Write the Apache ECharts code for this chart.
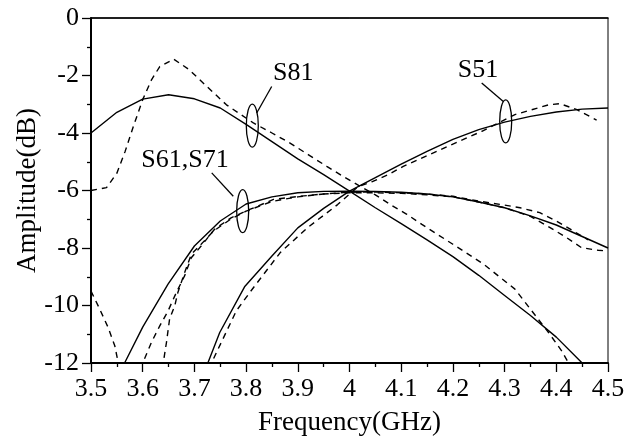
<!DOCTYPE html>
<html>
<head>
<meta charset="utf-8">
<script src="https://cdn.jsdelivr.net/npm/echarts@6/dist/echarts.min.js"></script>
<style>
html,body{margin:0;padding:0;background:#fff;}
#chart{width:635px;height:441px;}
</style>
</head>
<body>
<div id="chart"></div>
<script>
// ---- data (frequency in GHz, amplitude in dB) ----
var xTicks = [3.5, 3.6, 3.7, 3.8, 3.9, 4.0, 4.1, 4.2, 4.3, 4.4, 4.5];
var yTicks = [-12, -10, -8, -6, -4, -2, 0];

var s81SimFreq = [3.5, 3.55, 3.6, 3.65, 3.7, 3.75, 3.8, 3.85, 3.9, 3.95, 4.0, 4.05, 4.1, 4.15, 4.2, 4.25, 4.3, 4.35, 4.4, 4.45, 4.5];
var s81SimAmp  = [-4.0, -3.28, -2.82, -2.67, -2.81, -3.13, -3.7, -4.3, -4.9, -5.45, -6.02, -6.6, -7.15, -7.72, -8.3, -8.95, -9.65, -10.35, -11.1, -12.0, -12.9];

var s81MeasFreq = [3.5, 3.53, 3.55, 3.566, 3.582, 3.6, 3.617, 3.633, 3.66, 3.69, 3.724, 3.762, 3.814, 3.85, 3.885, 3.92, 3.956, 3.985, 4.02, 4.05, 4.079, 4.111, 4.14, 4.2, 4.26, 4.32, 4.36, 4.385, 4.41, 4.43];
var s81MeasAmp  = [-6.0, -5.9, -5.4, -4.64, -3.77, -2.84, -2.15, -1.69, -1.43, -1.8, -2.38, -3.02, -3.65, -4.0, -4.35, -4.75, -5.16, -5.48, -5.85, -6.15, -6.49, -6.83, -7.18, -7.87, -8.57, -9.43, -10.36, -10.94, -11.57, -12.2];

var dipMeasFreq = [3.5, 3.517, 3.533, 3.546, 3.555];
var dipMeasAmp  = [-9.5, -10.13, -10.76, -11.4, -12.2];

var s6171SimFreq = [3.55, 3.565, 3.6, 3.649, 3.7, 3.75, 3.8, 3.85, 3.9, 3.95, 4.0, 4.05, 4.1, 4.15, 4.2, 4.25, 4.3, 4.35, 4.4, 4.45, 4.5];
var s6171SimAmp  = [-12.6, -12.0, -10.75, -9.26, -7.93, -7.06, -6.47, -6.22, -6.08, -6.03, -6.02, -6.03, -6.06, -6.12, -6.22, -6.4, -6.6, -6.88, -7.2, -7.6, -8.0];

var s61MeasFreq = [3.595, 3.6, 3.617, 3.633, 3.649, 3.665, 3.681, 3.694, 3.713, 3.739, 3.771, 3.807, 3.853, 3.904, 3.95, 4.0, 4.05, 4.1, 4.15, 4.2, 4.25, 4.3, 4.35, 4.388, 4.42, 4.449, 4.481, 4.5];
var s61MeasAmp  = [-12.2, -12.0, -11.28, -10.71, -10.19, -9.55, -8.97, -8.34, -7.93, -7.35, -6.95, -6.66, -6.31, -6.2, -6.12, -6.08, -6.08, -6.1, -6.15, -6.22, -6.4, -6.6, -6.9, -7.29, -7.64, -7.99, -8.08, -8.1];

var s71MeasFreq = [3.638, 3.646, 3.652, 3.662, 3.668, 3.681, 3.694, 3.713, 3.737, 3.77, 3.8, 3.85, 3.9, 3.95, 4.0, 4.05, 4.1, 4.15, 4.2, 4.25, 4.294, 4.33, 4.368, 4.4, 4.433, 4.462];
var s71MeasAmp  = [-12.2, -11.28, -10.47, -10.01, -9.55, -8.86, -8.22, -7.87, -7.41, -7.0, -6.72, -6.38, -6.22, -6.12, -6.06, -6.05, -6.08, -6.12, -6.2, -6.37, -6.49, -6.6, -6.77, -7.06, -7.41, -7.72];

var s51SimFreq = [3.72, 3.726, 3.749, 3.797, 3.85, 3.9, 3.95, 4.0, 4.05, 4.1, 4.15, 4.2, 4.25, 4.3, 4.35, 4.4, 4.45, 4.5];
var s51SimAmp  = [-12.2, -12.0, -10.94, -9.35, -8.28, -7.3, -6.62, -6.02, -5.55, -5.08, -4.64, -4.22, -3.88, -3.62, -3.42, -3.27, -3.17, -3.13];

var s51MeasFreq = [3.73, 3.733, 3.781, 3.807, 3.866, 3.919, 3.948, 3.977, 4.017, 4.043, 4.075, 4.104, 4.133, 4.191, 4.256, 4.32, 4.385, 4.407, 4.44, 4.478];
var s51MeasAmp  = [-12.2, -12.0, -10.19, -9.55, -8.16, -7.29, -6.89, -6.49, -5.86, -5.7, -5.45, -5.16, -4.93, -4.46, -3.94, -3.36, -3.02, -2.98, -3.19, -3.55];

// annotation labels and their anchor points (data coordinates)
var annLabels = ['S81', 'S61,S71', 'S51'];
var annEllipse = [[3.812, -3.746], [3.7934, -6.719], [4.3021, -3.597]];
var annLeadFrom = [[3.8205, -3.306], [3.7752, -6.198], [4.2975, -2.903]];
var annLeadTo = [[3.8495, -2.383], [3.7335, -5.387], [4.2557, -2.265]];
var annText = [[3.891, -1.918], [3.6818, -4.96], [4.2485, -1.804]];

function zip(a, b) { return a.map(function (v, i) { return [v, b[i]]; }); }

var FONT = '"Liberation Serif", "Times New Roman", serif';
var chart = echarts.init(document.getElementById('chart'), null, {renderer: 'canvas'});

function lineSeries(f, a, dashed) {
  return {
    type: 'line', data: zip(f, a), symbol: 'none', smooth: false, clip: true,
    lineStyle: {color: '#000', width: 1.4, type: dashed ? [6, 5] : 'solid'},
    animation: false, silent: true
  };
}

chart.setOption({
  backgroundColor: '#fff',
  animation: false,
  grid: {left: 91, right: 27, top: 18, bottom: 77, show: true, borderColor: '#000', borderWidth: 1, backgroundColor: 'transparent'},
  xAxis: [{
    type: 'value', min: xTicks[0], max: xTicks[xTicks.length - 1], interval: 0.1,
    name: 'Frequency(GHz)', nameLocation: 'middle', nameGap: 46, nameMoveOverlap: false,
    nameTextStyle: {fontFamily: FONT, fontSize: 27, color: '#000'},
    axisLine: {show: true, onZero: false, lineStyle: {color: '#000', width: 2}},
    axisTick: {show: true, inside: false, length: 9, lineStyle: {color: '#000', width: 1.3}},
    minorTick: {show: true, splitNumber: 2, length: 4, lineStyle: {color: '#000', width: 1.3}},
    splitLine: {show: false},
    axisLabel: {fontFamily: FONT, fontSize: 26, color: '#000', margin: 13,
      formatter: function (v) { return String(Math.round(v * 10) / 10); }}
  }, {
    type: 'value', position: 'top', min: xTicks[0], max: xTicks[xTicks.length - 1],
    axisLine: {show: true, lineStyle: {color: '#000', width: 1.6}},
    axisTick: {show: false}, axisLabel: {show: false}, splitLine: {show: false}
  }],
  yAxis: [{
    type: 'value', min: yTicks[0], max: yTicks[yTicks.length - 1], interval: 2,
    name: 'Amplitude(dB)', nameLocation: 'middle', nameGap: 50, nameRotate: 90, nameMoveOverlap: false,
    nameTextStyle: {fontFamily: FONT, fontSize: 27, color: '#000'},
    axisLine: {show: true, onZero: false, lineStyle: {color: '#000', width: 2}},
    axisTick: {show: true, inside: false, length: 9, lineStyle: {color: '#000', width: 1.3}},
    minorTick: {show: true, splitNumber: 2, length: 4, lineStyle: {color: '#000', width: 1.3}},
    splitLine: {show: false},
    axisLabel: {fontFamily: FONT, fontSize: 26, color: '#000', margin: 12}
  }],
  series: [
    lineSeries(s81SimFreq, s81SimAmp, false),
    lineSeries(s81MeasFreq, s81MeasAmp, true),
    lineSeries(dipMeasFreq, dipMeasAmp, true),
    lineSeries(s6171SimFreq, s6171SimAmp, false),
    lineSeries(s61MeasFreq, s61MeasAmp, true),
    lineSeries(s71MeasFreq, s71MeasAmp, true),
    lineSeries(s51SimFreq, s51SimAmp, false),
    lineSeries(s51MeasFreq, s51MeasAmp, true)
  ]
});

var px = function (p) { return chart.convertToPixel({xAxisIndex: 0, yAxisIndex: 0}, p); };
var elems = [];
annLabels.forEach(function (lab, i) {
  var c = px(annEllipse[i]);
  var a = px(annLeadFrom[i]);
  var b = px(annLeadTo[i]);
  var t = px(annText[i]);
  elems.push({type: 'ellipse', shape: {cx: c[0], cy: c[1], rx: 6, ry: 21.5},
    style: {fill: 'none', stroke: '#000', lineWidth: 1.3}, silent: true, z: 100});
  elems.push({type: 'line', shape: {x1: a[0], y1: a[1], x2: b[0], y2: b[1]},
    style: {stroke: '#000', lineWidth: 1.3}, silent: true, z: 100});
  elems.push({type: 'text', x: t[0], y: t[1],
    style: {text: lab, fontFamily: FONT, fontSize: 26, fill: '#000', align: 'center', verticalAlign: 'middle'},
    silent: true, z: 100});
});
chart.setOption({graphic: {elements: elems}});
</script>
</body>
</html>
